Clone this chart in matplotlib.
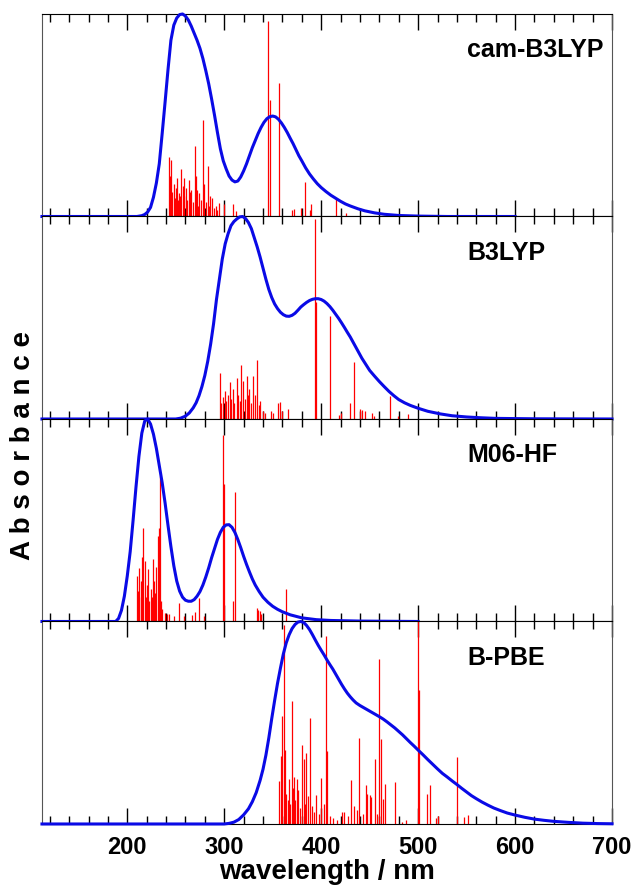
import numpy as np
import matplotlib
matplotlib.use('Agg')
import matplotlib.pyplot as plt
from matplotlib.ticker import MultipleLocator

plt.rcParams['font.family'] = ['Liberation Sans', 'DejaVu Sans']
plt.rcParams['font.weight'] = 'bold'

methods = ['cam-B3LYP', 'B3LYP', 'M06-HF', 'B-PBE']

# broadened spectra, wavelength (nm) and normalised absorbance
cam_wl = [112, 200, 210, 215, 218, 221, 224, 227, 230, 233, 236, 239, 242, 245, 248, 251, 254,
          257, 260, 263, 266, 269, 272, 275, 278, 281, 284, 287, 290, 293, 296, 299, 302, 305,
          308, 311, 314, 317, 320, 323, 326, 329, 332, 335, 338, 341, 344, 347, 350, 353, 356,
          359, 362, 365, 368, 371, 374, 377, 380, 384, 388, 392, 396, 400, 405, 410, 415, 420,
          425, 430, 438, 445, 455, 465, 480, 500, 530, 600]
cam_abs = [0, 0, 0, 0.004, 0.01, 0.022, 0.045, 0.095, 0.165, 0.26, 0.41, 0.565, 0.725, 0.87,
           0.945, 0.98, 0.997, 1.0, 0.99, 0.97, 0.94, 0.905, 0.87, 0.83, 0.78, 0.72, 0.655, 0.58,
           0.5, 0.415, 0.335, 0.275, 0.235, 0.2, 0.18, 0.171, 0.175, 0.195, 0.225, 0.26, 0.3,
           0.34, 0.375, 0.41, 0.44, 0.465, 0.483, 0.493, 0.496, 0.492, 0.48, 0.462, 0.44, 0.415,
           0.387, 0.36, 0.33, 0.3, 0.275, 0.24, 0.21, 0.185, 0.162, 0.143, 0.123, 0.105, 0.09,
           0.075, 0.062, 0.052, 0.038, 0.028, 0.018, 0.011, 0.005, 0.002, 0.0, 0.0]

b3_wl = [112, 250, 255, 260, 264, 268, 271, 274, 277, 280, 283, 286, 289, 292, 295, 298, 301,
         304, 307, 310, 313, 316, 319, 322, 325, 328, 331, 334, 337, 340, 343, 346, 349, 352,
         355, 358, 361, 364, 367, 370, 373, 376, 379, 382, 385, 388, 391, 394, 397, 400, 403,
         406, 409, 412, 415, 418, 421, 424, 427, 430, 434, 438, 442, 446, 450, 455, 460, 465,
         470, 475, 480, 486, 492, 500, 510, 523, 535, 550, 565, 580, 620, 700]
b3_abs = [0, 0, 0.004, 0.014, 0.03, 0.055, 0.08, 0.115, 0.16, 0.215, 0.285, 0.37, 0.47, 0.59,
          0.69, 0.79, 0.865, 0.915, 0.955, 0.975, 0.988, 0.998, 1.0, 0.99, 0.97, 0.94, 0.895,
          0.85, 0.8, 0.745, 0.69, 0.64, 0.6, 0.568, 0.545, 0.527, 0.515, 0.508, 0.507, 0.512,
          0.522, 0.537, 0.553, 0.565, 0.576, 0.585, 0.591, 0.594, 0.594, 0.59, 0.582, 0.57,
          0.555, 0.537, 0.517, 0.497, 0.475, 0.452, 0.428, 0.405, 0.37, 0.335, 0.3, 0.27, 0.24,
          0.212, 0.185, 0.16, 0.136, 0.115, 0.096, 0.08, 0.067, 0.053, 0.038, 0.025, 0.016,
          0.01, 0.006, 0.003, 0.001, 0]

m06_wl = [112, 188, 191, 194, 197, 200, 203, 206, 209, 212, 215, 218, 221, 224, 227, 230, 233,
          236, 239, 242, 245, 248, 251, 254, 257, 260, 263, 266, 269, 272, 275, 278, 281, 284,
          287, 290, 293, 296, 299, 302, 305, 308, 311, 314, 317, 320, 323, 326, 329, 332, 336,
          340, 345, 350, 355, 360, 368, 380, 395, 410, 440, 500]
m06_abs = [0, 0, 0.015, 0.055, 0.125, 0.225, 0.345, 0.5, 0.665, 0.815, 0.93, 0.99, 1.0, 0.975,
           0.925, 0.855, 0.77, 0.685, 0.585, 0.475, 0.37, 0.275, 0.2, 0.15, 0.12, 0.105, 0.1,
           0.1, 0.108, 0.125, 0.148, 0.18, 0.22, 0.265, 0.315, 0.36, 0.405, 0.44, 0.465, 0.477,
           0.478, 0.465, 0.44, 0.405, 0.365, 0.322, 0.282, 0.245, 0.21, 0.18, 0.148, 0.12, 0.095,
           0.075, 0.06, 0.048, 0.033, 0.018, 0.009, 0.005, 0.002, 0]

bpbe_wl = [112, 300, 305, 310, 315, 320, 325, 329, 333, 337, 340, 343, 346, 349, 352, 355, 358,
           361, 364, 367, 370, 373, 376, 379, 382, 385, 388, 391, 394, 397, 400, 403, 406, 409,
           412, 415, 418, 421, 424, 427, 430, 433, 436, 440, 444, 448, 452, 456, 460, 464, 468,
           472, 476, 480, 484, 488, 492, 496, 500, 505, 510, 515, 520, 525, 530, 535, 540, 545,
           550, 555, 560, 566, 572, 578, 585, 592, 600, 610, 620, 630, 640, 655, 670, 685, 700]
bpbe_abs = [0, 0, 0.003, 0.009, 0.022, 0.045, 0.075, 0.11, 0.155, 0.215, 0.27, 0.34, 0.425,
            0.52, 0.61, 0.695, 0.77, 0.84, 0.895, 0.935, 0.965, 0.985, 0.997, 1.0, 0.995, 0.98,
            0.96, 0.935, 0.908, 0.882, 0.858, 0.835, 0.81, 0.787, 0.765, 0.74, 0.715, 0.69,
            0.667, 0.646, 0.628, 0.612, 0.598, 0.585, 0.574, 0.563, 0.552, 0.541, 0.53, 0.518,
            0.504, 0.489, 0.474, 0.457, 0.44, 0.421, 0.402, 0.384, 0.365, 0.342, 0.318, 0.295,
            0.272, 0.25, 0.232, 0.213, 0.195, 0.176, 0.158, 0.14, 0.125, 0.108, 0.093, 0.079,
            0.066, 0.054, 0.044, 0.033, 0.024, 0.018, 0.013, 0.008, 0.004, 0.002, 0.001]

# stick spectra, wavelength (nm) and relative oscillator strength
cam_st_wl = [243.4, 244.5, 245.2, 246.5, 247.9, 249, 250, 251.3, 252, 253, 254.5, 255.7, 257,
             258.1, 259, 260.5, 262, 263.3, 264.5, 266, 267.5, 269.4, 270.5, 271.7, 273, 274, 276,
             277.6, 279.6, 281, 283, 284.5, 285.8, 287.5, 289, 291, 293, 295, 299.4, 309.5, 312,
             344.8, 347, 356.4, 369.4, 372, 379.5, 383.8, 388, 390, 415.6, 425.6]
cam_st_f = [0.294, 0.2, 0.277, 0.12, 0.16, 0.09, 0.14, 0.19, 0.08, 0.115, 0.1, 0.236, 0.15,
            0.19, 0.1, 0.14, 0.08, 0.18, 0.12, 0.13, 0.07, 0.347, 0.2, 0.13, 0.05, 0.115, 0.08,
            0.478, 0.16, 0.07, 0.248, 0.05, 0.1, 0.09, 0.04, 0.05, 0.03, 0.065, 0.06, 0.06, 0.025,
            0.967, 0.574, 0.657, 0.03, 0.035, 0.04, 0.17, 0.03, 0.06, 0.088, 0.015]

b3_st_wl = [295.8, 297, 299, 300.5, 302, 303.5, 306, 307.5, 309, 310.5, 312.9, 314.5, 316, 317.3,
            319.5, 321, 323, 324.5, 326, 328, 330, 332, 334, 335.5, 336.7, 339.5, 342, 348, 350,
            355, 357.5, 360, 365.5, 393.3, 395, 409.4, 418, 420, 430, 433.4, 440, 442, 445, 452,
            454.5, 471, 479, 489.8]
b3_st_f = [0.225, 0.08, 0.11, 0.14, 0.09, 0.12, 0.184, 0.1, 0.15, 0.08, 0.2, 0.12, 0.09, 0.266,
           0.19, 0.1, 0.21, 0.12, 0.15, 0.08, 0.21, 0.12, 0.29, 0.07, 0.09, 0.04, 0.03, 0.04, 0.03,
           0.08, 0.085, 0.04, 0.05, 0.99, 0.578, 0.507, 0.02, 0.03, 0.077, 0.282, 0.05, 0.045,
           0.04, 0.03, 0.015, 0.113, 0.015, 0.025]

m06_st_wl = [210.3, 211, 212, 213.7, 214.5, 215.4, 216.4, 217.8, 219, 219.9, 221, 222.5, 224,
             225.5, 226.7, 228, 229, 230, 231.5, 232.5, 233.5, 234.5, 236, 239, 241, 243, 248,
             253.6, 258, 266.5, 270, 273.6, 278.8, 299.2, 299.8, 309.5, 311, 333.5, 335, 336.5,
             337.7, 363.5]
m06_st_f = [0.224, 0.15, 0.264, 0.2, 0.12, 0.32, 0.46, 0.3, 0.12, 0.18, 0.26, 0.1, 0.16, 0.12,
            0.31, 0.2, 0.14, 0.27, 0.42, 0.46, 0.72, 0.1, 0.06, 0.04, 0.035, 0.035, 0.025, 0.09,
            0.025, 0.03, 0.045, 0.116, 0.025, 0.92, 0.68, 0.1, 0.64, 0.066, 0.055, 0.05, 0.035,
            0.158]

bpbe_st_wl = [356.4, 358.5, 359.8, 361.5, 363, 364, 365.5, 367, 368, 369.4, 370.5, 372.4, 373.5,
              374.7, 376.5, 378, 380.2, 382, 383.5, 384.8, 386.5, 388.9, 391, 393, 395, 398, 400.2,
              402.5, 405, 406.5, 409, 412, 416, 421, 424, 428, 431, 433.7, 436.5, 439.5, 443,
              446.4, 447.5, 450, 451, 455.6, 458, 460, 461.8, 463.5, 465.9, 476.5, 483, 487.5,
              499.5, 500.5, 509.6, 512.4, 518, 520, 539.8, 547, 551.5]
bpbe_st_f = [0.21, 0.334, 0.532, 0.985, 0.366, 0.15, 0.12, 0.22, 0.1, 0.607, 0.18, 0.23, 0.12,
             0.22, 0.17, 0.08, 0.39, 0.32, 0.1, 0.35, 0.14, 0.523, 0.09, 0.06, 0.145, 0.05, 0.226,
             0.1, 0.93, 0.358, 0.04, 0.03, 0.02, 0.06, 0.06, 0.04, 0.218, 0.09, 0.07, 0.424, 0.05,
             0.193, 0.15, 0.145, 0.135, 0.32, 0.05, 0.815, 0.42, 0.125, 0.198, 0.205, 0.012, 0.02,
             1.0, 0.66, 0.149, 0.193, 0.03, 0.04, 0.33, 0.035, 0.045]

curves = [(cam_wl, cam_abs), (b3_wl, b3_abs), (m06_wl, m06_abs), (bpbe_wl, bpbe_abs)]
sticks = [(cam_st_wl, cam_st_f), (b3_st_wl, b3_st_f), (m06_st_wl, m06_st_f), (bpbe_st_wl, bpbe_st_f)]

fig, axes = plt.subplots(4, 1, sharex=True, figsize=(6.34, 8.86), dpi=100)
fig.subplots_adjust(left=0.0662, right=0.9653, top=0.9842, bottom=0.07, hspace=0)

for ax, name, (wl, ab), (swl, sf) in zip(axes, methods, curves, sticks):
    ax.vlines(swl, 0, sf, color='#ff0000', linewidth=0.9, zorder=2)
    ax.plot(wl, ab, color='#0a0ae6', linewidth=2.2, zorder=4, clip_on=False,
            solid_joinstyle='round')
    ax.set_xlim(112, 700)
    ax.set_ylim(0, 1.0)
    ax.set_yticks([])
    ax.xaxis.set_major_locator(MultipleLocator(100))
    ax.xaxis.set_minor_locator(MultipleLocator(20))
    ax.tick_params(axis='x', which='both', direction='in', top=True, bottom=True,
                   color='black', width=1)
    ax.tick_params(axis='x', which='major', length=11.5)
    ax.tick_params(axis='x', which='minor', length=5.5)
    for side in ['left', 'right']:
        ax.spines[side].set_color('#555555')
    for side in ['top', 'bottom']:
        ax.spines[side].set_color('black')
    ax.text(0.746, 0.82, name, transform=ax.transAxes, fontsize=18, fontweight='bold',
            ha='left', va='center')

axes[-1].tick_params(axis='x', which='major', labelsize=17, pad=9)
for lab in axes[-1].get_xticklabels():
    lab.set_fontweight('bold')
axes[-1].set_xticks([200, 300, 400, 500, 600, 700])
axes[-1].set_xlabel('wavelength / nm', fontsize=20, fontweight='bold', labelpad=0)

fig.text(0.036, 1 - 445 / 886, 'A b s o r b a n c e', rotation=90, ha='center', va='center',
         fontsize=20, fontweight='bold')

fig.savefig('out.png', dpi=100)
